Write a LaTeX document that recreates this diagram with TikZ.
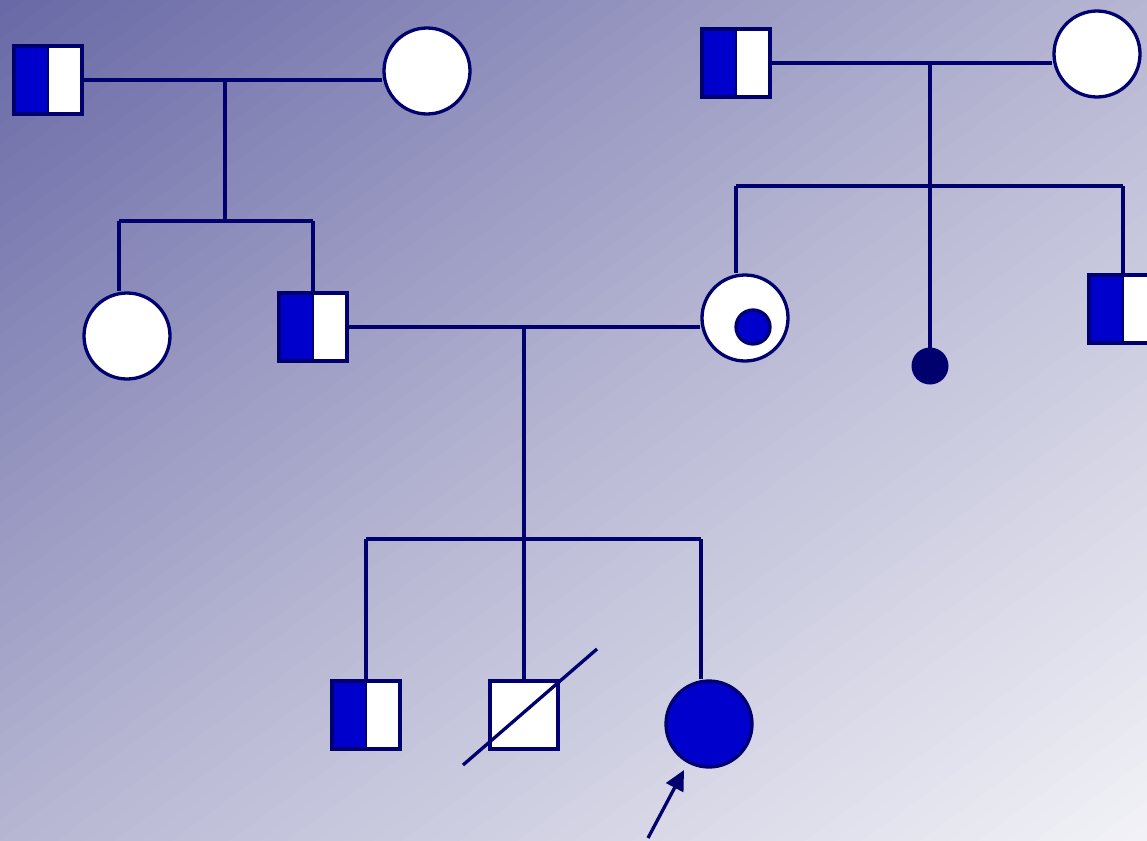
\documentclass[tikz,border=0pt]{standalone}
\usetikzlibrary{arrows.meta}
\definecolor{navy}{RGB}{0,0,110}
\definecolor{affblue}{RGB}{0,0,204}
\definecolor{bgA}{RGB}{104,104,166}
\definecolor{bgM}{RGB}{182,182,211}
\definecolor{bgB}{RGB}{242,242,247}
\tikzset{
  lnk/.style={draw=navy, line width=3.3pt},
  male/.style={rectangle, draw=navy, line width=3.3pt, fill=white, minimum size=68pt, inner sep=0pt},
  carrierm/.style={male, path picture={\fill[affblue] (path picture bounding box.south west) rectangle (path picture bounding box.north);
     \draw[navy, line width=1.5pt] (path picture bounding box.south) -- (path picture bounding box.north);}},
  female/.style={circle, draw=navy, line width=3.3pt, fill=white, minimum size=86pt, inner sep=0pt},
  affected/.style={female, fill=affblue},
  innerdot/.style={circle, draw=navy, line width=3.3pt, fill=affblue, minimum size=34pt, inner sep=0pt},
  miscarr/.style={circle, fill=navy, minimum size=37pt, inner sep=0pt},
}
\begin{document}
\begin{tikzpicture}[x=1pt, y=-1pt]
\useasboundingbox (0,0) rectangle (1147,840);
% diagonal background gradient built from strips
\begin{scope}
\clip (0,0) rectangle (1147,840);
\foreach \i in {0,...,79}{
  \pgfmathsetmacro{\ta}{-680+\i*17}
  \pgfmathsetmacro{\tb}{\ta+18}
  \pgfmathsetmacro{\f}{(\i+0.5)/80}
  \pgfmathsetmacro{\xa}{573.5+\ta*0.591-807}
  \pgfmathsetmacro{\ya}{420+\ta*0.807+591}
  \pgfmathsetmacro{\xb}{573.5+\ta*0.591+807}
  \pgfmathsetmacro{\yb}{420+\ta*0.807-591}
  \pgfmathsetmacro{\xc}{573.5+\tb*0.591+807}
  \pgfmathsetmacro{\yc}{420+\tb*0.807-591}
  \pgfmathsetmacro{\xd}{573.5+\tb*0.591-807}
  \pgfmathsetmacro{\yd}{420+\tb*0.807+591}
  \ifdim \f pt<0.5pt
    \pgfmathsetmacro{\p}{\f*200}\colorlet{cur}{bgM!\p!bgA}
  \else
    \pgfmathsetmacro{\p}{(\f-0.5)*200}\colorlet{cur}{bgB!\p!bgM}
  \fi
  \fill[cur] (\xa,\ya) -- (\xb,\yb) -- (\xc,\yc) -- (\xd,\yd) -- cycle;
}
\end{scope}

% nodes
\node[carrierm] (m1) at (48,80) {};
\node[female] (f1) at (427,71) {};
\node[female] (f2) at (127,336) {};
\node[carrierm] (m2) at (313,327) {};
\node[carrierm] (m3) at (736,63) {};
\node[female] (f3) at (1097,54) {};
\node[female] (f4) at (745,318) {};
\node[innerdot] (f4d) at (753,327) {};
\node[miscarr] (dd) at (930,366) {};
\node[carrierm] (m4) at (1123,309) {};
\node[carrierm] (m5) at (366,715) {};
\node[male] (m6) at (524,715) {};
\node[affected] (f5) at (709,724) {};

% junction coordinates
\coordinate (c1) at (225,80);
\coordinate (s1) at (225,221);
\coordinate (s1l) at (119,221);
\coordinate (s1r) at (313,221);
\coordinate (c3) at (930,63);
\coordinate (s3) at (930,186);
\coordinate (s3l) at (736,186);
\coordinate (s3r) at (1123,186);
\coordinate (c2) at (524,327);
\coordinate (s2) at (524,539);
\coordinate (s2l) at (366,539);
\coordinate (s2r) at (701,539);
\coordinate (dgA) at (463,765);
\coordinate (dgB) at (597,649);
\coordinate (arA) at (648,838);
\coordinate (arB) at (684,770);

% generation 1 left
\draw[lnk] (m1.east) -- (m1.east -| f1.west);
\draw[lnk] (c1) -- (s1);
\draw[lnk] (s1l) -- (s1r);
\draw[lnk] (s1l) -- (s1l |- f2.north);
\draw[lnk] (s1r) -- (m2.north);

% generation 1 right
\draw[lnk] (m3.east) -- (m3.east -| f3.west);
\draw[lnk] (c3) -- (dd.center);
\draw[lnk] (s3l) -- (s3r);
\draw[lnk] (s3l) -- (s3l |- f4.north);
\draw[lnk] (s3r) -- (m4.north);

% generation 2 marriage
\draw[lnk] (m2.east) -- (m2.east -| f4.west);
\draw[lnk] (c2) -- (s2);
\draw[lnk] (s2l) -- (s2r);
\draw[lnk] (s2l) -- (m5.north);
\draw[lnk] (s2) -- (m6.north);
\draw[lnk] (s2r) -- (s2r |- f5.north);

% deceased line
\draw[lnk] (dgA) -- (dgB);

% proband arrow
\draw[lnk, -{Triangle[length=20pt, width=19pt]}] (arA) -- (arB);
\end{tikzpicture}
\end{document}
